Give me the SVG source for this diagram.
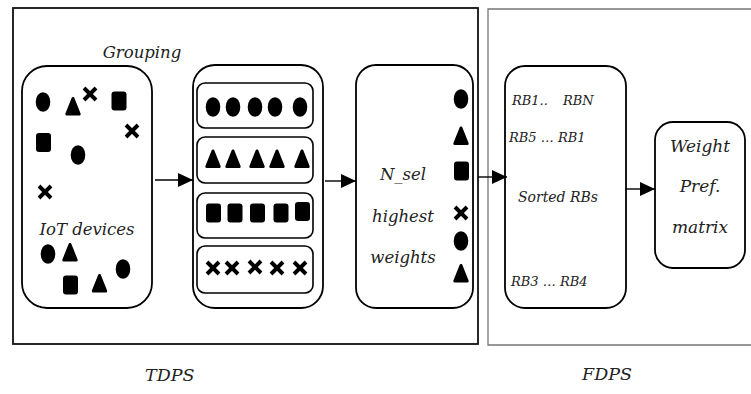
<svg xmlns="http://www.w3.org/2000/svg" width="751" height="394" viewBox="0 0 751 394">
<style>
.box{fill:#fff;stroke:#000;stroke-width:1.8}
.row{fill:#fff;stroke:#000;stroke-width:1.6}
.t{font-family:"DejaVu Serif","Liberation Serif",serif;font-style:italic;fill:#222}
.conn{stroke:#000;stroke-width:1.4;fill:none}
</style>
<defs>
<marker id="ah" markerUnits="userSpaceOnUse" markerWidth="16" markerHeight="16" refX="15" refY="7" orient="auto">
<path d="M0,0 L15,7 L0,14 Z" fill="#000"/>
</marker>
<ellipse id="dot" cx="0" cy="0" rx="7.3" ry="9.8" fill="#000"/>
<path id="tri" d="M0,-7.5 L6.2,8 L-6.2,8 Z" fill="#000" stroke="#000" stroke-width="3" stroke-linejoin="round"/>
<rect id="sq" x="-7.5" y="-9.5" width="15" height="19" rx="3" fill="#000"/>
<g id="x" stroke="#000" stroke-width="3.9"><line x1="-6" y1="-6" x2="6" y2="6"/><line x1="6" y1="-6" x2="-6" y2="6"/></g>
</defs>
<rect width="751" height="394" fill="#fff"/>

<g id="tdps">
<rect x="13" y="8" width="465" height="336" fill="none" stroke="#111" stroke-width="1.8"/>
<text class="t" x="145" y="381" font-size="17.5">TDPS</text>
</g>
<g id="fdps">
<path d="M760,9 H488 V345 H760" fill="none" stroke="#777" stroke-width="1.3"/>
<text class="t" x="582" y="380" font-size="17.5">FDPS</text>
</g>

<g id="iot">
<rect class="box" x="22" y="66" width="130" height="242" rx="25"/>
<text class="t" x="142" y="58" font-size="16.5" text-anchor="middle">Grouping</text>
<use href="#dot" x="43" y="102"/>
<use href="#tri" x="73" y="106"/>
<use href="#x" x="90" y="94"/>
<use href="#sq" x="119" y="101"/>
<use href="#x" x="132" y="131"/>
<use href="#sq" x="43.5" y="142.5"/>
<use href="#dot" x="78" y="155"/>
<use href="#x" x="45" y="192"/>
<text class="t" x="87" y="235" font-size="16.5" text-anchor="middle">IoT devices</text>
<use href="#dot" x="48" y="254"/>
<use href="#tri" x="70" y="252"/>
<use href="#dot" x="123" y="269"/>
<use href="#sq" x="70.5" y="285"/>
<use href="#tri" x="99.5" y="283"/>
</g>

<g id="groups">
<rect class="box" x="193" y="65" width="130" height="243" rx="22"/>
<rect class="row" x="197" y="83" width="116" height="45" rx="8"/>
<rect class="row" x="197" y="137" width="116" height="46" rx="8"/>
<rect class="row" x="197" y="193" width="116" height="45" rx="8"/>
<rect class="row" x="197" y="246" width="116" height="47" rx="8"/>
<use href="#dot" x="213" y="107"/>
<use href="#dot" x="233" y="107"/>
<use href="#dot" x="255" y="107"/>
<use href="#dot" x="275" y="107"/>
<use href="#dot" x="300" y="107"/>
<use href="#tri" x="213" y="158.5"/>
<use href="#tri" x="233" y="158.5"/>
<use href="#tri" x="257" y="158.5"/>
<use href="#tri" x="277" y="158.5"/>
<use href="#tri" x="302" y="158.5"/>
<use href="#sq" x="213.5" y="213"/>
<use href="#sq" x="235" y="213"/>
<use href="#sq" x="257.5" y="213"/>
<use href="#sq" x="281" y="213"/>
<use href="#sq" x="302.5" y="211.5"/>
<use href="#x" x="213" y="268"/>
<use href="#x" x="232" y="268"/>
<use href="#x" x="255" y="267"/>
<use href="#x" x="277" y="268"/>
<use href="#x" x="300" y="268"/>
</g>

<g id="nsel">
<rect class="box" x="356" y="65" width="117" height="243" rx="20"/>
<text class="t" x="403" y="180" font-size="16.5" text-anchor="middle">N_sel</text>
<text class="t" x="403" y="222" font-size="16.5" text-anchor="middle">highest</text>
<text class="t" x="403" y="263" font-size="16.5" text-anchor="middle">weights</text>
<use href="#dot" x="461" y="99"/>
<use href="#tri" x="461" y="135.5"/>
<use href="#sq" x="461.5" y="171"/>
<use href="#x" x="461" y="213"/>
<use href="#dot" x="461" y="241"/>
<use href="#tri" x="461" y="273"/>
</g>

<g id="sorted">
<rect class="box" x="505" y="66" width="121" height="242" rx="20"/>
<text class="t" x="512" y="105" font-size="13">RB1..</text>
<text class="t" x="563" y="105" font-size="13">RBN</text>
<text class="t" x="509" y="142" font-size="13">RB5 … RB1</text>
<text class="t" x="558" y="202" font-size="14" text-anchor="middle">Sorted RBs</text>
<text class="t" x="511" y="286" font-size="13">RB3 … RB4</text>
</g>

<g id="weight">
<rect class="box" x="655" y="122" width="90" height="146" rx="18"/>
<text class="t" x="700" y="152" font-size="17" text-anchor="middle">Weight</text>
<text class="t" x="700" y="192" font-size="17" text-anchor="middle">Pref.</text>
<text class="t" x="700" y="233" font-size="17" text-anchor="middle">matrix</text>
</g>

<g id="connectors">
<line class="conn" x1="155" y1="180" x2="193" y2="180" marker-end="url(#ah)"/>
<line class="conn" x1="325" y1="181" x2="356" y2="181" marker-end="url(#ah)"/>
<line class="conn" x1="478" y1="177" x2="507" y2="177" marker-end="url(#ah)"/>
<line class="conn" x1="626" y1="189" x2="655" y2="189" marker-end="url(#ah)"/>
</g>
</svg>
